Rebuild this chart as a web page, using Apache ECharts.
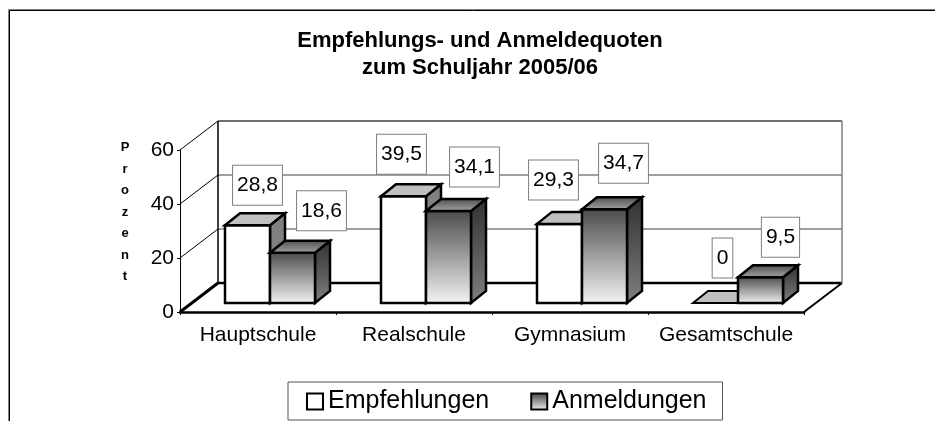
<!DOCTYPE html>
<html>
<head>
<meta charset="utf-8">
<style>
  html, body { margin: 0; padding: 0; background: #fff; }
  #chart { width: 935px; height: 421px; }
</style>
<script src="https://cdn.jsdelivr.net/npm/echarts@6/dist/echarts.min.js"></script>
</head>
<body>
<div id="chart"></div>
<script>
const categories = ['Hauptschule', 'Realschule', 'Gymnasium', 'Gesamtschule']
const empfehlungen = [28.8, 39.5, 29.3, 0]
const anmeldungen = [18.6, 34.1, 34.7, 9.5]
const yTicks = [0, 20, 40, 60]
const titleText = 'Empfehlungs- und Anmeldequoten\nzum Schuljahr 2005/06'
const yAxisName = 'Prozent'

// hand placed data labels in the original: [dx, dy] from the bar's front top centre
const empfehlungenNudge = [[10, -40], [-2, -42], [-6, -44], [7, -45]]
const anmeldungenNudge = [[29, -42], [26, -44], [19, -46], [20, -40]]

const FONT = '"Liberation Sans", Arial, sans-serif'
const BAR_W = 45
const DEPTH_X = 15 // bar depth
const DEPTH_Y = 12
const FLOOR_X = 38 // floor depth
const FLOOR_Y = 29
const BAR_SHIFT_X = 12 // bars stand a little behind the front edge
const BAR_SHIFT_Y = 9
const STROKE = 2.5

function vGrad(top, bottom) {
  return new echarts.graphic.LinearGradient(0, 0, 0, 1, [
    { offset: 0, color: top },
    { offset: 1, color: bottom }
  ])
}

function poly(points, fill, width) {
  return {
    type: 'polygon',
    shape: { points },
    style: { fill, stroke: '#000', lineWidth: width, lineJoin: 'miter' }
  }
}

function seg(x1, y1, x2, y2, stroke, lineWidth) {
  return { type: 'line', shape: { x1, y1, x2, y2 }, style: { stroke, lineWidth } }
}

function renderWall(params, api) {
  const value = api.value(1)
  const p = api.coord([0, value])
  const w = params.coordSys.width
  const x0 = params.coordSys.x
  const y = p[1]
  const backX = x0 + FLOOR_X
  const backY = y - FLOOR_Y
  const children = []
  if (value === 0) {
    children.push(seg(x0, y, backX, backY, '#000', 3))
    children.push(seg(x0 + w, y, x0 + w + FLOOR_X, backY, '#000', 2))
    children.push(seg(backX, backY, x0 + w + FLOOR_X, backY, '#000', 2.5))
  } else {
    children.push(seg(x0, y, backX, backY, '#000', 1))
    const top = value === yTicks[yTicks.length - 1]
    children.push(seg(backX, backY, x0 + w + FLOOR_X, backY, top ? '#404040' : '#808080', 1.5))
  }
  if (value === yTicks[yTicks.length - 1]) {
    const floorY = api.coord([0, 0])[1] - FLOOR_Y
    children.push(seg(backX, backY, backX, floorY, '#000', 1.5))
    children.push(seg(x0 + w + FLOOR_X, backY, x0 + w + FLOOR_X, floorY, '#808080', 1.5))
  }
  return { type: 'group', children }
}

function barRenderer(seriesIndex, nudge, faces) {
  return function (params, api) {
    const i = api.value(0)
    const value = api.value(1)
    const base = api.coord([i, 0])
    const head = api.coord([i, value])
    const x0 = base[0] - BAR_W + BAR_SHIFT_X + seriesIndex * BAR_W
    const x1 = x0 + BAR_W
    const yb = base[1] - BAR_SHIFT_Y
    const yt = head[1] - BAR_SHIFT_Y
    const children = []
    if (value > 0) {
      children.push(poly([[x1, yt], [x1 + DEPTH_X, yt - DEPTH_Y], [x1 + DEPTH_X, yb - DEPTH_Y], [x1, yb]], faces.side, STROKE))
      children.push(poly([[x0, yt], [x1, yt], [x1, yb], [x0, yb]], faces.front, STROKE))
    }
    children.push(poly([[x0, yt], [x0 + DEPTH_X, yt - DEPTH_Y], [x1 + DEPTH_X, yt - DEPTH_Y], [x1, yt]], faces.top, value > 0 ? STROKE : 2))
    children.push({
      type: 'text',
      x: x0 + BAR_W / 2 + nudge[params.dataIndex][0],
      y: yt + nudge[params.dataIndex][1],
      z2: 10,
      style: {
        text: String(value).replace('.', ','),
        fill: '#000',
        font: '21px ' + FONT,
        align: 'center',
        verticalAlign: 'middle',
        backgroundColor: '#fff',
        borderColor: '#7f7f7f',
        borderWidth: 1,
        padding: [9, 4]
      }
    })
    return { type: 'group', children }
  }
}

const chart = echarts.init(document.getElementById('chart'), null, { renderer: 'canvas' })
chart.setOption({
  animation: false,
  backgroundColor: '#fff',
  textStyle: { fontFamily: FONT },
  title: {
    text: titleText,
    left: 475,
    top: 22,
    textAlign: 'center',
    textStyle: { fontFamily: FONT, fontSize: 22, fontWeight: 'bold', color: '#000', lineHeight: 27 }
  },
  graphic: [
    {
      type: 'polyline',
      shape: { points: [[8.5, 421], [8.5, 9.5], [935, 9.5]] },
      style: { stroke: '#808080', lineWidth: 1, fill: null },
      silent: true
    },
    {
      type: 'polyline',
      shape: { points: [[9.5, 421], [9.5, 10.5], [935, 10.5]] },
      style: { stroke: '#000', lineWidth: 1, fill: null },
      silent: true
    },
    {
      type: 'text',
      x: 125,
      y: 212,
      style: {
        text: yAxisName.split('').join('\n'),
        font: 'bold 13px ' + FONT,
        fill: '#000',
        align: 'center',
        verticalAlign: 'middle',
        lineHeight: 21.5
      }
    }
  ],
  legend: {
    left: 288,
    top: 382,
    orient: 'horizontal',
    padding: [7, 16, 6, 18],
    itemGap: 41,
    itemWidth: 16,
    itemHeight: 25,
    borderColor: '#555',
    borderWidth: 1,
    backgroundColor: '#fff',
    selectedMode: false,
    textStyle: { fontFamily: FONT, fontSize: 25, color: '#000' },
    data: [
      { name: 'Empfehlungen', icon: 'path://M0,0H16V16H0Z', itemStyle: { color: '#fff', borderColor: '#000', borderWidth: 2 } },
      { name: 'Anmeldungen', icon: 'path://M0,0H16V16H0Z', itemStyle: { color: vGrad('#404040', '#f0f0f0'), borderColor: '#000', borderWidth: 2 } }
    ]
  },
  grid: { left: 180, top: 150, width: 624, height: 162 },
  xAxis: {
    type: 'category',
    data: categories,
    axisLine: { show: true, lineStyle: { color: '#000', width: 2.5 } },
    axisTick: { show: true, alignWithLabel: false, length: 3, lineStyle: { color: '#000', width: 1 } },
    axisLabel: { color: '#000', fontFamily: FONT, fontSize: 21, margin: 13, interval: 0, hideOverlap: false }
  },
  yAxis: {
    type: 'value',
    min: 0,
    max: 60,
    interval: 20,
    splitLine: { show: false },
    axisLine: { show: true, lineStyle: { color: '#000', width: 1 } },
    axisTick: { show: true, length: 3, lineStyle: { color: '#000', width: 1 } },
    axisLabel: { color: '#000', fontFamily: FONT, fontSize: 21, margin: 6 }
  },
  series: [
    {
      type: 'custom',
      name: 'wall',
      z: 1,
      renderItem: renderWall,
      data: yTicks.map(v => [0, v])
    },
    {
      type: 'custom',
      name: 'Empfehlungen',
      z: 3,
      renderItem: barRenderer(0, empfehlungenNudge, {
        front: '#ffffff',
        top: '#c0c0c0',
        side: '#808080'
      }),
      itemStyle: { color: '#fff' },
      data: empfehlungen.map((v, i) => [i, v])
    },
    {
      type: 'custom',
      name: 'Anmeldungen',
      z: 3,
      renderItem: barRenderer(1, anmeldungenNudge, {
        front: vGrad('#4a4a4a', '#f4f4f4'),
        top: vGrad('#4a4a4a', '#a8a8a8'),
        side: vGrad('#303030', '#808080')
      }),
      itemStyle: { color: '#808080' },
      data: anmeldungen.map((v, i) => [i, v])
    }
  ]
})
</script>
</body>
</html>
